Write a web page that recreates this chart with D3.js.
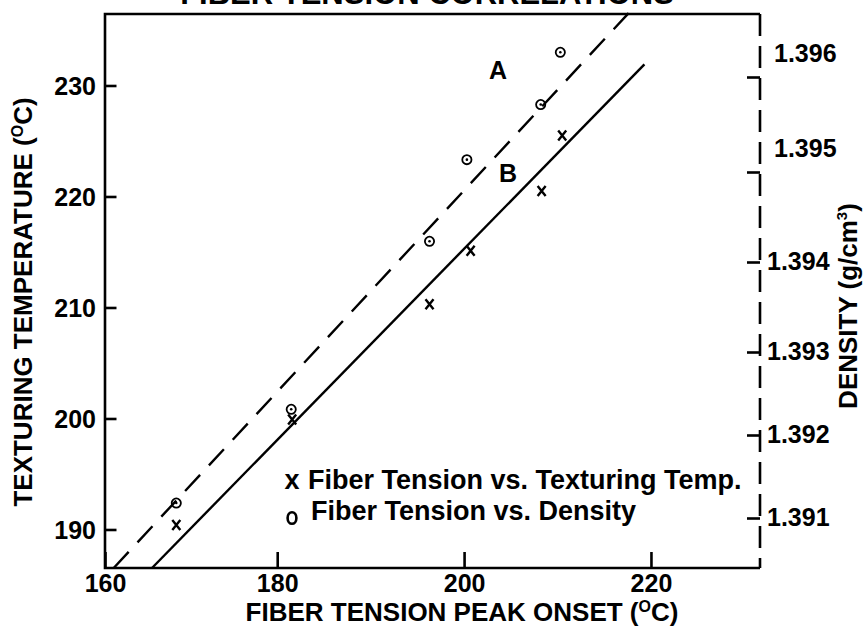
<!DOCTYPE html>
<html>
<head>
<meta charset="utf-8">
<script src="https://cdn.jsdelivr.net/npm/d3@7"></script>
<style>
  html, body { margin: 0; padding: 0; background: #fff; }
  svg text { font-family: "Liberation Sans", Arial, Helvetica, sans-serif; font-weight: bold; fill: #000; }
</style>
</head>
<body>
<div id="chart"></div>
<script>
// fiber tension peak onset (x markers) vs texturing temperature
const tensionX = [169.2, 181.6, 196.3, 200.7, 208.3, 210.5]
const texturingTemp = [190.4, 199.9, 210.3, 215.1, 220.5, 225.5]
// fiber tension peak onset (circle markers) vs density
const tensionO = [169.2, 181.5, 196.3, 200.3, 208.2, 210.3]
const density = [1.39118, 1.39231, 1.39423, 1.39513, 1.39571, 1.39626]

// fitted lines, endpoints in (tension, temperature) units
const lineAx = [162.5, 217.7]
const lineAy = [186.53, 236.6]
const lineBx = [166.6, 219.3]
const lineBy = [186.53, 231.9]

const xTicks = [160, 180, 200, 220]
const tempTicks = [190, 200, 210, 220, 230]
const densityTicks = [1.391, 1.392, 1.393, 1.394, 1.395, 1.396]

const width = 864
const height = 626
const frame = { left: 105, right: 760, top: 14, bottom: 568 }

const svg = d3.select('#chart').append('svg')
  .attr('width', width)
  .attr('height', height)
  .attr('viewBox', [0, 0, width, height])

svg.append('rect').attr('width', width).attr('height', height).attr('fill', '#fff')

const x = d3.scaleLinear().domain([161.57, 231.67]).range([frame.left, frame.right])
const yTemp = d3.scaleLinear().domain([186.53, 236.44]).range([frame.bottom, frame.top])
// the density axis of the original is not evenly spaced, so map it piece by piece
const yDens = d3.scaleLinear().domain(densityTicks).range([518, 435, 352, 262, 172, 77])

// frame: solid left / top / bottom, dashed right
const frameG = svg.append('g').attr('stroke', '#000').attr('stroke-width', 2.6).attr('fill', 'none')
frameG.append('path')
  .attr('d', `M${frame.right},${frame.top}H${frame.left}V${frame.bottom}H${frame.right}`)
frameG.append('line')
  .attr('x1', frame.right).attr('x2', frame.right)
  .attr('y1', frame.top).attr('y2', frame.bottom)
  .attr('stroke-dasharray', '22,10')

// left axis
const leftAxis = svg.append('g')
  .attr('transform', `translate(${frame.left},0)`)
  .call(d3.axisLeft(yTemp).tickValues(tempTicks).tickSize(-11.5).tickPadding(9))
leftAxis.select('.domain').remove()
leftAxis.selectAll('line').attr('stroke', '#000').attr('stroke-width', 2.6)
leftAxis.selectAll('text').attr('font-size', 25).attr('font-family', null).attr('dy', '0.35em')

// bottom axis (160 sits on the frame corner)
const bottomAxis = svg.append('g')
  .attr('transform', `translate(0,${frame.bottom})`)
  .call(d3.axisBottom(x.copy().clamp(true)).tickValues(xTicks).tickSize(-16).tickPadding(8))
bottomAxis.select('.domain').remove()
bottomAxis.selectAll('line').attr('stroke', '#000').attr('stroke-width', 2.6)
bottomAxis.selectAll('text').attr('font-size', 25).attr('font-family', null).attr('y', 24).attr('dy', 0)

// right axis
const rightAxis = svg.append('g')
  .attr('transform', `translate(${frame.right},0)`)
  .call(d3.axisRight(yDens).tickValues(densityTicks).tickSize(-13).tickPadding(7).tickFormat(d3.format('.3f')))
rightAxis.select('.domain').remove()
rightAxis.selectAll('line').attr('stroke', '#000').attr('stroke-width', 2.6)
rightAxis.selectAll('text')
  .attr('font-size', 25).attr('font-family', null)
  .attr('x', d => d >= 1.395 ? 14 : 7)
  .attr('dy', d => d >= 1.395 ? '-0.62em' : '0.3em')

// titles
svg.append('text')
  .attr('x', 427).attr('y', 4)
  .attr('text-anchor', 'middle')
  .attr('font-size', 31)
  .text('FIBER TENSION CORRELATIONS')

const xTitle = svg.append('text')
  .attr('x', 462).attr('y', 620.5)
  .attr('text-anchor', 'middle')
  .attr('font-size', 26)
xTitle.append('tspan').text('FIBER TENSION PEAK ONSET (')
xTitle.append('tspan').attr('font-size', 16).attr('dy', -9).text('O')
xTitle.append('tspan').attr('dy', 9).text('C)')

const yTitle = svg.append('text')
  .attr('transform', 'translate(32,302) rotate(-90)')
  .attr('text-anchor', 'middle')
  .attr('font-size', 26)
yTitle.append('tspan').text('TEXTURING TEMPERATURE (')
yTitle.append('tspan').attr('font-size', 16).attr('dy', -9).text('O')
yTitle.append('tspan').attr('dy', 9).text('C)')

const y2Title = svg.append('text')
  .attr('transform', 'translate(857,306) rotate(-90)')
  .attr('text-anchor', 'middle')
  .attr('font-size', 26)
y2Title.append('tspan').text('DENSITY (g/cm')
y2Title.append('tspan').attr('font-size', 15).attr('dy', -10).text('3')
y2Title.append('tspan').attr('dy', 10).text(')')

// fitted lines
const lineGen = d3.line().x(d => x(d[0])).y(d => yTemp(d[1]))
svg.append('path')
  .datum(d3.zip(lineAx, lineAy))
  .attr('d', lineGen)
  .attr('fill', 'none').attr('stroke', '#000').attr('stroke-width', 2.4)
  .attr('stroke-dasharray', '22,13')
svg.append('path')
  .datum(d3.zip(lineBx, lineBy))
  .attr('d', lineGen)
  .attr('fill', 'none').attr('stroke', '#000').attr('stroke-width', 2.4)

svg.append('text').attr('x', 498).attr('y', 79).attr('text-anchor', 'middle').attr('font-size', 25).text('A')
svg.append('text').attr('x', 508).attr('y', 182).attr('text-anchor', 'middle').attr('font-size', 25).text('B')

// circle markers (density)
const circleG = svg.append('g')
  .selectAll('g')
  .data(d3.zip(tensionO, density))
  .join('g')
  .attr('transform', d => `translate(${x(d[0])},${yDens(d[1])})`)
circleG.append('circle').attr('r', 4.6).attr('fill', 'none').attr('stroke', '#000').attr('stroke-width', 1.8)
circleG.append('circle').attr('r', 1.3).attr('fill', '#000')

// x markers (texturing temperature)
svg.append('g')
  .selectAll('path')
  .data(d3.zip(tensionX, texturingTemp))
  .join('path')
  .attr('transform', d => `translate(${x(d[0])},${yTemp(d[1])})`)
  .attr('d', 'M-4,-5L4,5M4,-5L-4,5')
  .attr('stroke', '#000').attr('stroke-width', 2.4).attr('fill', 'none')

// legend
const legend = svg.append('g')
legend.append('text').attr('x', 292).attr('y', 489).attr('text-anchor', 'middle').attr('font-size', 27).text('x')
legend.append('text').attr('x', 308).attr('y', 489).attr('font-size', 27).text('Fiber Tension vs. Texturing Temp.')
legend.append('ellipse').attr('cx', 292).attr('cy', 518).attr('rx', 4.4).attr('ry', 5.8)
  .attr('fill', 'none').attr('stroke', '#000').attr('stroke-width', 2.6)
legend.append('text').attr('x', 311).attr('y', 520).attr('font-size', 27).text('Fiber Tension vs. Density')
</script>
</body>
</html>
